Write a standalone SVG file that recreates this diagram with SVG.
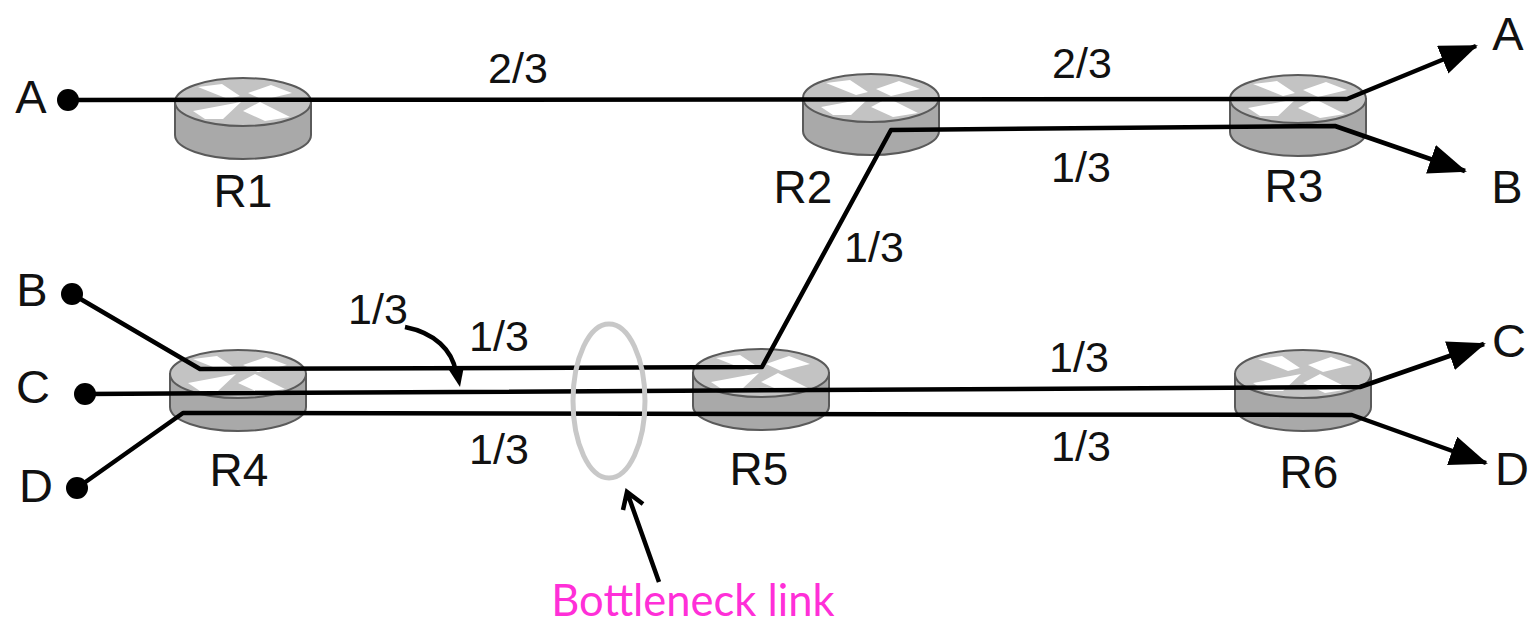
<svg xmlns="http://www.w3.org/2000/svg" width="1530" height="626" viewBox="0 0 1530 626">
<style>
text{font-family:"Liberation Sans",Arial,sans-serif;fill:#111;font-size:46px;text-anchor:middle}
.frac{font-size:43px}
.end{font-size:47px}
.side{fill:#a9a9a9;stroke:#5a5a5a;stroke-width:2}
.top{fill:#c3c3c3;stroke:#5a5a5a;stroke-width:2}
.x{fill:#fff}
.link{fill:none;stroke:#000;stroke-width:4.5;stroke-linejoin:round}
.dot{fill:#000}
.note{font-family:Lato,"Open Sans",sans-serif;fill:#ff2fd8;font-size:43.5px}
</style>
<defs>
<g id="router">
<path class="side" d="M-68 0V33A68 24 0 0 0 68 33V0Z"/>
<ellipse class="top" rx="68" ry="24"/>
<path class="x" d="M-45-15L-21-18L-3-6L-15-3ZM28-17L49-9L20-2L5-9ZM-50 9L-2 0L-20 17L-38 17ZM0 9L17 0L47 15L22 19Z"/>
</g>
<marker id="arrow" markerUnits="userSpaceOnUse" markerWidth="40" markerHeight="32" refX="36" refY="15" orient="auto">
<path d="M0 0L38 15L0 30Z" fill="#000"/>
</marker>
</defs>
<g id="R1"><use href="#router" x="243" y="102"/><text x="243" y="207">R1</text></g>
<g id="R2"><use href="#router" x="871" y="98"/><text x="803" y="203">R2</text></g>
<g id="R3"><use href="#router" x="1298" y="99"/><text x="1294" y="202">R3</text></g>
<g id="R4"><use href="#router" x="238" y="374"/><text x="239" y="486">R4</text></g>
<g id="R5"><use href="#router" x="761" y="373"/><text x="759" y="485">R5</text></g>
<g id="R6"><use href="#router" x="1303" y="374"/><text x="1309" y="488">R6</text></g>
<g id="connectors">
<polyline class="link" points="68,100 1347,99 1476,46" marker-end="url(#arrow)"/>
<polyline class="link" points="72,294 200,369 762,367 891,130 1335,126 1465,171" marker-end="url(#arrow)"/>
<polyline class="link" points="85,394 1360,387 1484,344" marker-end="url(#arrow)"/>
<polyline class="link" points="77,488 183,413 1352,415 1486,463" marker-end="url(#arrow)"/>
<path class="link" d="M405 327C435 333 452 350 456 372"/>
<polygon points="447,367 464,366 460,387" fill="#000"/>
<path d="M659 582L627 492M623 510L627 492L643 504" fill="none" stroke="#000" stroke-width="4.5"/>
<circle class="dot" cx="68" cy="100" r="11"/>
<circle class="dot" cx="72" cy="294" r="11"/>
<circle class="dot" cx="85" cy="394" r="11"/>
<circle class="dot" cx="77" cy="488" r="11"/>
</g>
<g id="bottleneck"><ellipse cx="609" cy="401" rx="36" ry="77" fill="none" stroke="#c8c8c8" stroke-width="5"/></g>
<g id="labels">
<text class="end" x="31" y="113">A</text>
<text class="end" x="32" y="306">B</text>
<text class="end" x="33" y="403">C</text>
<text class="end" x="36" y="502">D</text>
<text class="end" x="1508" y="50">A</text>
<text class="end" x="1507" y="203">B</text>
<text class="end" x="1509" y="357">C</text>
<text class="end" x="1512" y="485">D</text>
<text class="frac" x="518" y="83">2/3</text>
<text class="frac" x="1082" y="78">2/3</text>
<text class="frac" x="1081" y="182">1/3</text>
<text class="frac" x="874" y="262">1/3</text>
<text class="frac" x="378" y="324">1/3</text>
<text class="frac" x="499" y="351">1/3</text>
<text class="frac" x="499" y="464">1/3</text>
<text class="frac" x="1079" y="372">1/3</text>
<text class="frac" x="1081" y="461">1/3</text>
<text class="note" x="693" y="616">Bottleneck link</text>
</g>
</svg>
